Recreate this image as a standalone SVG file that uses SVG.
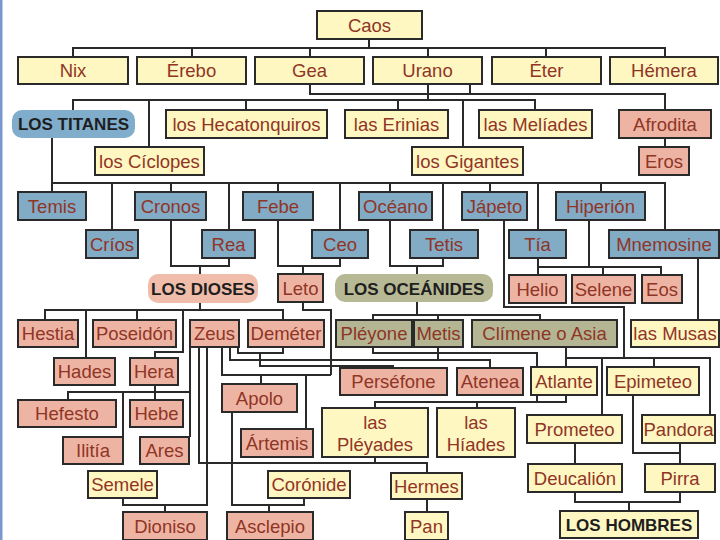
<svg xmlns="http://www.w3.org/2000/svg" width="720" height="540" viewBox="0 0 720 540">
<style>
.n rect{stroke:#2a2a2a;stroke-width:2}
.y rect{fill:#fff7c2}
.b rect{fill:#82abc6}
.p rect{fill:#eeb4a3}
.o rect{fill:#b4b693}
.n text{font-family:"Liberation Sans",Arial,sans-serif;font-size:18.5px;fill:#8f3526;text-anchor:middle}
.g rect{stroke:none}
.g text,.h text{font-family:"Liberation Sans",Arial,sans-serif;font-size:17px;font-weight:bold;fill:#1e1e1e;text-anchor:middle}
#conn polyline{fill:none;stroke:#2a2a2a;stroke-width:2}
</style>
<rect x="0" y="0" width="720" height="540" fill="#ffffff"/>
<rect x="0" y="0" width="2.5" height="540" fill="#7b98cc"/>
<g id="conn">
<polyline points="369,39 369,48"/>
<polyline points="73,57 73,48 665,48 665,57"/>
<polyline points="192,48 192,57"/><polyline points="310,48 310,57"/><polyline points="428,48 428,57"/><polyline points="546,48 546,57"/>
<polyline points="310,83 310,94 665,94 665,110"/>
<polyline points="470,83 470,94"/>
<polyline points="428,83 428,100"/>
<polyline points="73,110 73,100 535,100 535,110"/>
<polyline points="149,100 149,147"/><polyline points="246,100 246,110"/><polyline points="398,100 398,110"/><polyline points="463,100 463,147"/>
<polyline points="665,138 665,147"/>
<polyline points="52,138 52,192"/>
<polyline points="52,183 665,183 665,230"/>
<polyline points="112,183 112,230"/><polyline points="171,183 171,192"/><polyline points="229,183 229,230"/><polyline points="278,183 278,192"/><polyline points="340,183 340,230"/><polyline points="390,183 390,192"/><polyline points="443,183 443,230"/><polyline points="490,183 490,192"/><polyline points="538,183 538,230"/><polyline points="601,183 601,192"/>
<polyline points="171,220 171,266 229,266 229,258"/><polyline points="200,266 200,274"/>
<polyline points="278,220 278,266 340,266 340,258"/><polyline points="303,266 303,274"/>
<polyline points="390,220 390,266 443,266 443,258"/><polyline points="417,266 417,274"/>
<polyline points="538,258 538,275"/>
<polyline points="589,220 589,267"/>
<polyline points="538,267 661,267 661,275"/><polyline points="603,267 603,275"/>
<polyline points="504,220 504,307 624,307 624,358"/>
<polyline points="698,258 698,320"/>
<polyline points="200,303 200,310"/>
<polyline points="45,320 45,310 283,310 283,320"/>
<polyline points="86,310 86,358"/><polyline points="137,310 137,320"/>
<polyline points="183,310 183,352 155,352 155,358"/>
<polyline points="303,302 303,310 331,310 331,375"/>
<polyline points="417,302 417,315"/>
<polyline points="373,320 373,315 540,315 540,320"/><polyline points="438,315 438,320"/>
<polyline points="238,347 238,353 283,353 283,347"/>
<polyline points="260,353 260,366 393,366 393,368"/>
<polyline points="230,347 230,360 490,360 490,368"/>
<polyline points="438,347 438,360"/>
<polyline points="373,347 373,353 537,353 537,402"/>
<polyline points="566,347 566,367"/>
<polyline points="566,358 710,358 710,415"/>
<polyline points="602,358 602,415"/><polyline points="654,358 654,367"/>
<polyline points="566,395 566,402 375,402 375,408"/><polyline points="477,402 477,408"/>
<polyline points="222,347 222,375 331,375"/>
<polyline points="261,375 261,384"/><polyline points="306,375 306,429"/>
<polyline points="155,385 155,400"/>
<polyline points="68,400 68,392 190,392"/>
<polyline points="123,392 123,437"/>
<polyline points="190,347 190,437"/>
<polyline points="199,347 199,463 427,463 427,473"/>
<polyline points="375,457 375,463"/>
<polyline points="207,347 207,505 123,505 123,498"/><polyline points="165,505 165,512"/>
<polyline points="232,412 232,505 304,505 304,498"/><polyline points="269,505 269,512"/>
<polyline points="427,499 427,512"/>
<polyline points="633,395 633,453 680,453 680,443"/><polyline points="680,453 680,464"/>
<polyline points="575,443 575,464"/>
<polyline points="575,492 575,502 680,502 680,492"/><polyline points="629,502 629,511"/>
</g>
<g id="caos" class="n y"><rect x="317" y="11" width="105" height="28"/><text x="369.5" y="31.5">Caos</text></g>
<g id="nix" class="n y"><rect x="18" y="57" width="110" height="27"/><text x="73" y="77">Nix</text></g>
<g id="erebo" class="n y"><rect x="137" y="57" width="109" height="27"/><text x="191.5" y="77">Érebo</text></g>
<g id="gea" class="n y"><rect x="255" y="57" width="109" height="27"/><text x="309.5" y="77">Gea</text></g>
<g id="urano" class="n y"><rect x="373" y="57" width="109" height="27"/><text x="427.5" y="77">Urano</text></g>
<g id="eter" class="n y"><rect x="492" y="57" width="109" height="27"/><text x="546.5" y="77">Éter</text></g>
<g id="hemera" class="n y"><rect x="610" y="57" width="108" height="27"/><text x="664" y="77">Hémera</text></g>
<g id="titanes" class="g"><rect x="12" y="110" width="123" height="28" rx="10" fill="#7fadcb"/><text x="73.5" y="130">LOS TITANES</text></g>
<g id="hecatonquiros" class="n y"><rect x="166" y="110" width="161" height="28"/><text x="246.5" y="130.5">los Hecatonquiros</text></g>
<g id="erinias" class="n y"><rect x="345" y="110" width="103" height="28"/><text x="396.5" y="130.5">las Erinias</text></g>
<g id="meliades" class="n y"><rect x="479" y="110" width="113" height="28"/><text x="535.5" y="130.5">las Melíades</text></g>
<g id="afrodita" class="n p"><rect x="619" y="110" width="92" height="28"/><text x="665" y="130.5">Afrodita</text></g>
<g id="ciclopes" class="n y"><rect x="95" y="147" width="109" height="28"/><text x="149.5" y="167.5">los Cíclopes</text></g>
<g id="gigantes" class="n y"><rect x="412" y="147" width="111" height="28"/><text x="467.5" y="167.5">los Gigantes</text></g>
<g id="eros" class="n p"><rect x="639" y="147" width="50" height="28"/><text x="664" y="167.5">Eros</text></g>
<g id="temis" class="n b"><rect x="18" y="192" width="68" height="28"/><text x="52" y="212.5">Temis</text></g>
<g id="cronos" class="n b"><rect x="135" y="192" width="71" height="28"/><text x="170.5" y="212.5">Cronos</text></g>
<g id="febe" class="n b"><rect x="243" y="192" width="70" height="28"/><text x="278" y="212.5">Febe</text></g>
<g id="oceano" class="n b"><rect x="359" y="192" width="73" height="28"/><text x="395.5" y="212.5">Océano</text></g>
<g id="japeto" class="n b"><rect x="462" y="192" width="65" height="28"/><text x="494.5" y="212.5">Jápeto</text></g>
<g id="hiperion" class="n b"><rect x="556" y="192" width="89" height="28"/><text x="600.5" y="212.5">Hiperión</text></g>
<g id="crios" class="n b"><rect x="86" y="230" width="52" height="28"/><text x="112" y="250.5">Críos</text></g>
<g id="rea" class="n b"><rect x="202" y="230" width="53" height="28"/><text x="228.5" y="250.5">Rea</text></g>
<g id="ceo" class="n b"><rect x="312" y="230" width="56" height="28"/><text x="340" y="250.5">Ceo</text></g>
<g id="tetis" class="n b"><rect x="410" y="230" width="68" height="28"/><text x="444" y="250.5">Tetis</text></g>
<g id="tia" class="n b"><rect x="509" y="230" width="57" height="28"/><text x="537.5" y="250.5">Tía</text></g>
<g id="mnemosine" class="n b"><rect x="609" y="230" width="110" height="28"/><text x="664" y="250.5">Mnemosine</text></g>
<g id="dioses" class="g"><rect x="148" y="274" width="110" height="29" rx="10" fill="#f1bdab"/><text x="203" y="294.5">LOS DIOSES</text></g>
<g id="leto" class="n p"><rect x="278" y="274" width="45" height="28"/><text x="300.5" y="294.5">Leto</text></g>
<g id="oceanides" class="g"><rect x="335" y="274" width="158" height="28" rx="10" fill="#b7b995"/><text x="414" y="294.5">LOS OCEÁNIDES</text></g>
<g id="helio" class="n p"><rect x="509" y="275" width="57" height="28"/><text x="537.5" y="295.5">Helio</text></g>
<g id="selene" class="n p"><rect x="572" y="275" width="63" height="28"/><text x="603.5" y="295.5">Selene</text></g>
<g id="eos" class="n p"><rect x="642" y="275" width="40" height="28"/><text x="662" y="295.5">Eos</text></g>
<g id="hestia" class="n p"><rect x="18" y="320" width="60" height="27"/><text x="48" y="340">Hestia</text></g>
<g id="poseidon" class="n p"><rect x="93" y="320" width="83" height="27"/><text x="134.5" y="340">Poseidón</text></g>
<g id="zeus" class="n p"><rect x="190" y="320" width="49" height="27"/><text x="214.5" y="340">Zeus</text></g>
<g id="demeter" class="n p"><rect x="248" y="320" width="76" height="27"/><text x="286" y="340">Deméter</text></g>
<g id="pleyone" class="n o"><rect x="336" y="320" width="76" height="27"/><text x="374" y="340">Pléyone</text></g>
<g id="metis" class="n o"><rect x="414" y="320" width="49" height="27"/><text x="438.5" y="340">Metis</text></g>
<g id="climene" class="n o"><rect x="472" y="320" width="145" height="27"/><text x="544.5" y="340">Clímene o Asia</text></g>
<g id="musas" class="n y"><rect x="631" y="320" width="88" height="27"/><text x="675" y="340">las Musas</text></g>
<g id="hades" class="n p"><rect x="54" y="358" width="61" height="27"/><text x="84.5" y="378">Hades</text></g>
<g id="hera" class="n p"><rect x="130" y="358" width="48" height="27"/><text x="154" y="378">Hera</text></g>
<g id="persefone" class="n p"><rect x="340" y="368" width="107" height="27"/><text x="393.5" y="388">Perséfone</text></g>
<g id="atenea" class="n p"><rect x="457" y="368" width="66" height="27"/><text x="490" y="388">Atenea</text></g>
<g id="atlante" class="n y"><rect x="531" y="367" width="66" height="28"/><text x="564" y="387.5">Atlante</text></g>
<g id="epimeteo" class="n y"><rect x="607" y="367" width="92" height="28"/><text x="653" y="387.5">Epimeteo</text></g>
<g id="apolo" class="n p"><rect x="222" y="384" width="75" height="28"/><text x="259.5" y="404.5">Apolo</text></g>
<g id="hefesto" class="n p"><rect x="18" y="400" width="98" height="27"/><text x="67" y="420">Hefesto</text></g>
<g id="hebe" class="n p"><rect x="130" y="400" width="53" height="27"/><text x="156.5" y="420">Hebe</text></g>
<g id="pleyades" class="n y"><rect x="322" y="408" width="106" height="49"/><text x="375" y="429">las</text><text x="375" y="451">Pléyades</text></g>
<g id="hiades" class="n y"><rect x="437" y="408" width="78" height="49"/><text x="476" y="429">las</text><text x="476" y="451">Híades</text></g>
<g id="prometeo" class="n y"><rect x="527" y="415" width="95" height="28"/><text x="574.5" y="435.5">Prometeo</text></g>
<g id="pandora" class="n y"><rect x="642" y="415" width="73" height="28"/><text x="678.5" y="435.5">Pandora</text></g>
<g id="artemis" class="n p"><rect x="241" y="429" width="72" height="28"/><text x="277" y="449.5">Ártemis</text></g>
<g id="ilitia" class="n p"><rect x="63" y="437" width="60" height="27"/><text x="93" y="457">Ilitía</text></g>
<g id="ares" class="n p"><rect x="140" y="437" width="49" height="27"/><text x="164.5" y="457">Ares</text></g>
<g id="semele" class="n y"><rect x="88" y="471" width="69" height="27"/><text x="122.5" y="491">Semele</text></g>
<g id="coronide" class="n y"><rect x="268" y="471" width="82" height="27"/><text x="309" y="491">Corónide</text></g>
<g id="hermes" class="n y"><rect x="391" y="473" width="71" height="26"/><text x="426.5" y="492.5">Hermes</text></g>
<g id="deucalion" class="n y"><rect x="528" y="464" width="94" height="28"/><text x="575" y="484.5">Deucalión</text></g>
<g id="pirra" class="n y"><rect x="645" y="464" width="70" height="28"/><text x="680" y="484.5">Pirra</text></g>
<g id="dioniso" class="n p"><rect x="123" y="512" width="84" height="28"/><text x="165" y="532.5">Dioniso</text></g>
<g id="asclepio" class="n p"><rect x="227" y="512" width="86" height="28"/><text x="270" y="532.5">Asclepio</text></g>
<g id="pan" class="n y"><rect x="405" y="512" width="43" height="28"/><text x="426.5" y="532.5">Pan</text></g>
<g id="hombres" class="n y h"><rect x="560" y="511" width="138" height="27"/><text x="629" y="530.5">LOS HOMBRES</text></g>
</svg>
